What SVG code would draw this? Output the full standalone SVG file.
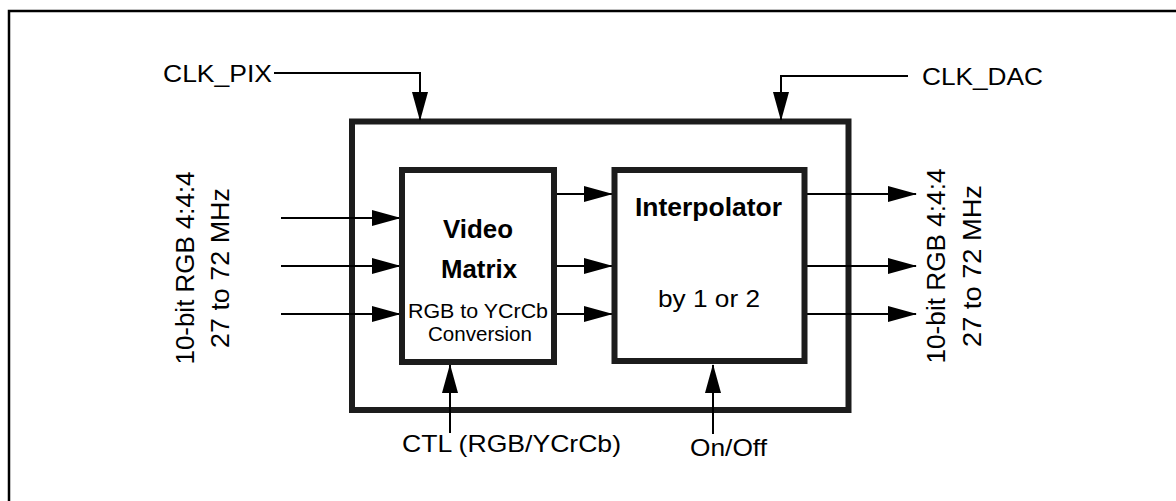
<svg xmlns="http://www.w3.org/2000/svg" width="1176" height="501" viewBox="0 0 1176 501">
  <defs>
    <marker id="arrow" markerUnits="userSpaceOnUse" markerWidth="29" markerHeight="16" refX="28" refY="8" orient="auto">
      <path d="M0,0 L29,8 L0,16 Z" fill="#000"/>
    </marker>
    <style>
      .frame { fill: none; stroke: #000; stroke-width: 2.5; }
      .box { fill: none; stroke: #1c1c1c; stroke-width: 6; }
      .inner { fill: #fff; stroke: #1c1c1c; stroke-width: 6; }
      .wire { fill: none; stroke: #000; stroke-width: 2; }
      .arr { marker-end: url(#arrow); }
      .lbl { font-family: "Liberation Sans", Arial, sans-serif; font-size: 24px; fill: #000; }
      .bold { font-family: "Liberation Sans", Arial, sans-serif; font-size: 25px; font-weight: bold; fill: #000; }
      .small { font-family: "Liberation Sans", Arial, sans-serif; font-size: 21px; fill: #000; }
    </style>
  </defs>

  <rect width="1176" height="501" fill="#fff"/>
  <path class="frame" d="M9,501 V11 H1176"/>

  <g id="outer-block">
    <rect class="box" x="352" y="121.5" width="496.5" height="288.5"/>
  </g>

  <g id="connectors">
    <!-- clocks -->
    <path class="wire arr" d="M274,73 H420 V120"/>
    <path class="wire arr" d="M908,76 H781 V120"/>
    <!-- inputs -->
    <path class="wire arr" d="M281,218 H400"/>
    <path class="wire arr" d="M281,266 H400"/>
    <path class="wire arr" d="M281,314 H400"/>
    <!-- matrix to interpolator -->
    <path class="wire arr" d="M556,194 H612"/>
    <path class="wire arr" d="M556,266 H612"/>
    <path class="wire arr" d="M556,314 H612"/>
    <!-- outputs -->
    <path class="wire arr" d="M807,194 H916"/>
    <path class="wire arr" d="M807,266 H916"/>
    <path class="wire arr" d="M807,314 H916"/>
    <!-- controls -->
    <path class="wire arr" d="M450,433 V365"/>
    <path class="wire arr" d="M713,434 V365"/>
  </g>

  <g id="video-matrix">
    <rect class="inner" x="402" y="170" width="152" height="192"/>
    <text class="bold" x="478" y="238" text-anchor="middle" textLength="70" lengthAdjust="spacingAndGlyphs">Video</text>
    <text class="bold" x="479" y="278" text-anchor="middle" textLength="76" lengthAdjust="spacingAndGlyphs">Matrix</text>
    <text class="small" x="478" y="318" text-anchor="middle" textLength="140" lengthAdjust="spacingAndGlyphs">RGB to YCrCb</text>
    <text class="small" x="480" y="341" text-anchor="middle" textLength="104" lengthAdjust="spacingAndGlyphs">Conversion</text>
  </g>

  <g id="interpolator">
    <rect class="inner" x="614.5" y="170" width="190" height="191"/>
    <text class="bold" x="708.5" y="216" text-anchor="middle" style="font-size:26px" textLength="147" lengthAdjust="spacingAndGlyphs">Interpolator</text>
    <text class="lbl" x="709" y="307" text-anchor="middle" textLength="102" lengthAdjust="spacingAndGlyphs">by 1 or 2</text>
  </g>

  <g id="clk-pix">
    <text class="lbl" x="163" y="82" textLength="109" lengthAdjust="spacingAndGlyphs">CLK_PIX</text>
  </g>
  <g id="clk-dac">
    <text class="lbl" x="922" y="85" textLength="121" lengthAdjust="spacingAndGlyphs">CLK_DAC</text>
  </g>
  <g id="input-label">
    <text class="lbl" transform="translate(194,268) rotate(-90)" text-anchor="middle" style="font-size:25px" textLength="193" lengthAdjust="spacingAndGlyphs">10-bit RGB 4:4:4</text>
    <text class="lbl" transform="translate(229,268) rotate(-90)" text-anchor="middle" style="font-size:25px" textLength="160" lengthAdjust="spacingAndGlyphs">27 to 72 MHz</text>
  </g>
  <g id="output-label">
    <text class="lbl" transform="translate(945,266) rotate(-90)" text-anchor="middle" style="font-size:25px" textLength="195" lengthAdjust="spacingAndGlyphs">10-bit RGB 4:4:4</text>
    <text class="lbl" transform="translate(981,266) rotate(-90)" text-anchor="middle" style="font-size:25px" textLength="162" lengthAdjust="spacingAndGlyphs">27 to 72 MHz</text>
  </g>
  <g id="ctl">
    <text class="lbl" x="402" y="452" textLength="219" lengthAdjust="spacingAndGlyphs">CTL (RGB/YCrCb)</text>
  </g>
  <g id="on-off">
    <text class="lbl" x="690" y="456" textLength="77" lengthAdjust="spacingAndGlyphs">On/Off</text>
  </g>
</svg>
